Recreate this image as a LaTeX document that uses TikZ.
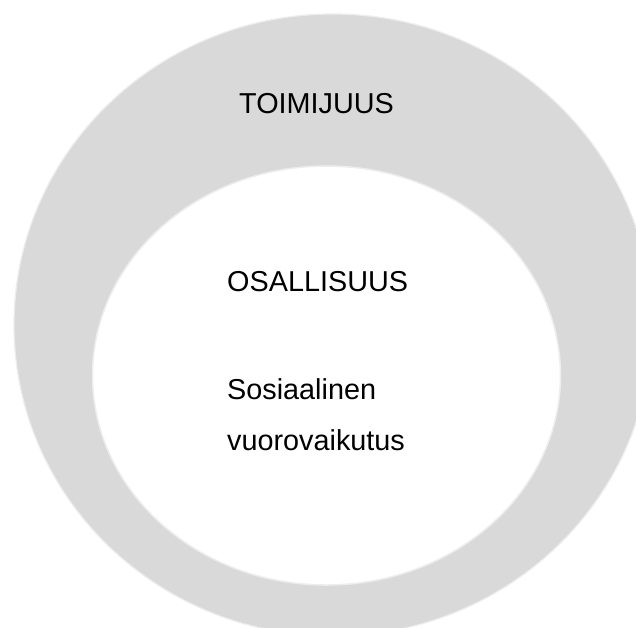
\documentclass[tikz,border=0pt]{standalone}
\usepackage{fontspec}
\setmainfont{Liberation Sans}
\begin{document}
\begin{tikzpicture}[x=1pt,y=-1pt,
  lbl/.style={anchor=base west,inner sep=0pt,font=\fontsize{28.8}{34}\selectfont},
  ring/.style={fill=gray!30!white!70!gray,draw=white!92!black,line width=1.2pt}]
\definecolor{ringgrey}{HTML}{D9D9D9}
\definecolor{edgegrey}{HTML}{EDEDED}
\useasboundingbox (0,0) rectangle (636,627);
\fill[white] (0,0) rectangle (636,627);
\begin{scope}
\clip (0,0) rectangle (636,627);
\path[fill=ringgrey,draw=edgegrey,line width=1.2pt] (333,325) ellipse [x radius=319,y radius=311];
\path[fill=white,draw=edgegrey,line width=1.5pt] (326.5,375.5) ellipse [x radius=234,y radius=209.5];
\end{scope}
\node[lbl] (toim) at (239,113.6) {TOIMIJUUS};
\node[lbl] (osal) at (227,291) {OSALLISUUS};
\node[lbl] (sos) at (227,399.6) {Sosiaalinen};
\node[lbl] (vuo) at (227,450) {vuorovaikutus};
\end{tikzpicture}
\end{document}
